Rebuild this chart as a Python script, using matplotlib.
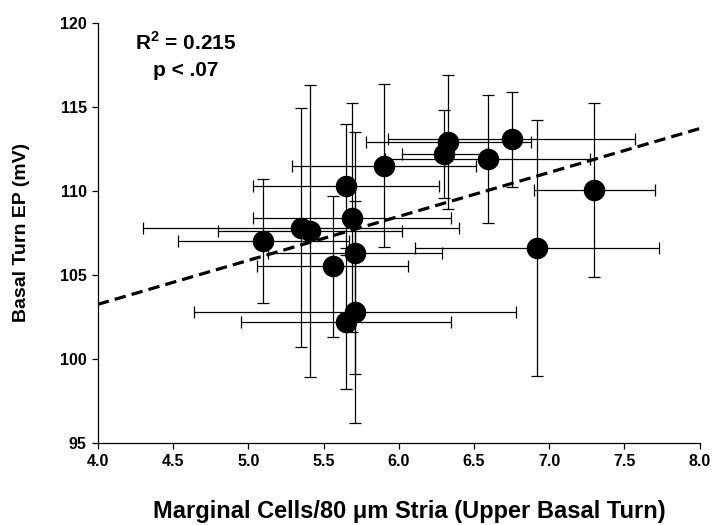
import matplotlib
matplotlib.use("Agg")
import matplotlib.pyplot as plt
import numpy as np

# values
cells = [5.10, 5.35, 5.41, 5.56, 5.65, 5.69, 5.71, 5.71, 5.65, 5.90,
         6.30, 6.33, 6.59, 6.75, 6.92, 7.30]
ep = [107.0, 107.8, 107.6, 105.5, 110.3, 108.4, 106.3, 102.8, 102.2, 111.5,
      112.2, 112.9, 111.9, 113.05, 106.6, 110.05]
cells_err = [0.57, 1.05, 0.61, 0.50, 0.62, 0.66, 0.58, 1.07, 0.70, 0.61,
             0.28, 0.55, 0.68, 0.82, 0.81, 0.40]
ep_err = [3.7, 7.1, 8.7, 4.2, 3.7, 6.8, 7.2, 6.6, 4.0, 4.85,
          2.6, 4.0, 3.8, 2.85, 7.6, 5.15]

# regression line end points
fit_x = [4.0, 8.0]
fit_y = [103.25, 113.7]

x_ticks = [4.0, 4.5, 5.0, 5.5, 6.0, 6.5, 7.0, 7.5, 8.0]
y_ticks = [95, 100, 105, 110, 115, 120]

plt.rcParams['font.family'] = ['Liberation Sans', 'DejaVu Sans']
plt.rcParams['font.weight'] = 'bold'
plt.rcParams['mathtext.fontset'] = 'custom'
plt.rcParams['mathtext.bf'] = 'Liberation Sans:bold'
plt.rcParams['mathtext.rm'] = 'Liberation Sans:bold'

fig = plt.figure(figsize=(7.14, 5.25), dpi=100)
ax = fig.add_axes([0.137, 0.156, 0.843, 0.801])

ax.errorbar(cells, ep, xerr=cells_err, yerr=ep_err, fmt='none',
            ecolor='black', elinewidth=0.9, capsize=4, capthick=0.9,
            zorder=2)
ax.plot(cells, ep, 'o', color='black', markersize=14.5, zorder=3)
ax.plot(fit_x, fit_y, color='black', linewidth=2.3,
        linestyle=(0, (3.6, 1.9)), zorder=4)

ax.set_xlim(4.0, 8.0)
ax.set_ylim(95, 120)
ax.set_xticks(x_ticks)
ax.set_xticklabels(['%.1f' % v for v in x_ticks])
ax.set_yticks(y_ticks)
ax.tick_params(direction='out', length=4, width=0.9, labelsize=11.5,
               pad=4)
for s in ['top', 'right']:
    ax.spines[s].set_visible(False)
for s in ['left', 'bottom']:
    ax.spines[s].set_linewidth(0.9)

ax.set_xlabel('Marginal Cells/80 \u03bcm Stria (Upper Basal Turn)',
              fontsize=17, fontweight='bold')
ax.xaxis.set_label_coords(0.518, -0.135)
ax.set_ylabel('Basal Turn EP (mV)', fontsize=14, fontweight='bold')
ax.yaxis.set_label_coords(-0.112, 0.5)

ax.text(0.146, 0.953, 'R$^{\\mathbf{2}}$ = 0.215', transform=ax.transAxes,
        fontsize=15, fontweight='bold', ha='center', va='center')
ax.text(0.146, 0.885, 'p < .07', transform=ax.transAxes,
        fontsize=15, fontweight='bold', ha='center', va='center')

fig.savefig('out.png', dpi=100)
